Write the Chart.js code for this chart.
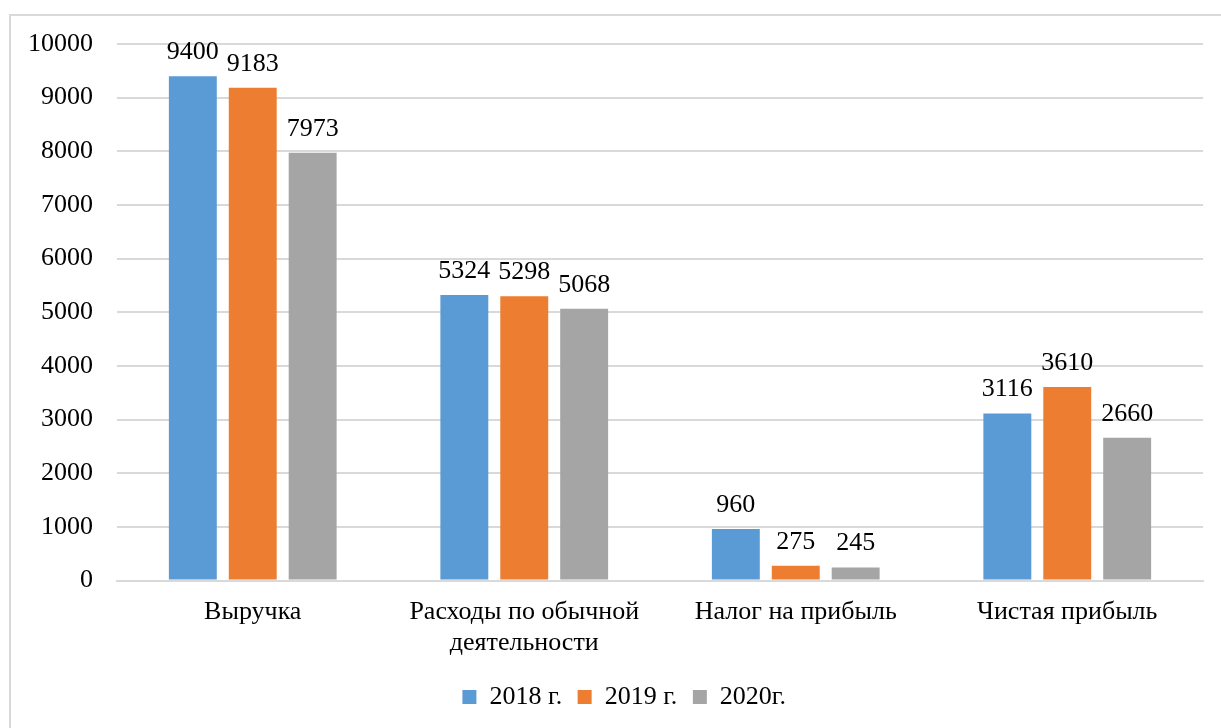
<!DOCTYPE html>
<html>
<head>
<meta charset="utf-8">
<script src="https://cdn.jsdelivr.net/npm/chart.js@4"></script>
<style>
    html, body { margin: 0; padding: 0; background: #fff; }
    #wrap { position: relative; width: 1221px; height: 728px; overflow: hidden; }
    #frame { position: absolute; left: 9px; top: 14px; width: 1300px; height: 800px; border: 2px solid #d9d9d9; box-sizing: border-box; }
    #chartBox { position: absolute; left: 0; top: 0; width: 1221px; height: 728px; }
    #probe { position: absolute; left: -9999px; font-family: 'Liberation Serif'; font-size: 26px; }
</style>
</head>
<body>
<div id="wrap">
    <div id="frame"></div>
    <div id="chartBox"><canvas id="finChart"></canvas></div>
</div>
<span id="probe">Выручка 0123</span>
<script>
// Данные
const categories = ['Выручка', ['Расходы по обычной', 'деятельности'], 'Налог на прибыль', 'Чистая прибыль'];
const seriesNames = ['2018 г.', '2019 г.', '2020г.'];
const values2018 = [9400, 5324, 960, 3116];
const values2019 = [9183, 5298, 275, 3610];
const values2020 = [7973, 5068, 245, 2660];
const colors = ['#5B9BD5', '#ED7D31', '#A5A5A5'];
const yTicks = [0, 1000, 2000, 3000, 4000, 5000, 6000, 7000, 8000, 9000, 10000];

const fontFamily = "'Liberation Serif', 'Times New Roman', serif";
const fontSize = 26;
Chart.defaults.font.family = fontFamily;

// подписи значений над столбцами
const valueLabels = {
    id: 'valueLabels',
    afterDatasetsDraw(chart) {
        const ctx = chart.ctx;
        ctx.save();
        ctx.font = fontSize + "px 'Liberation Serif', serif";
        ctx.fillStyle = '#000';
        ctx.textAlign = 'center';
        ctx.textBaseline = 'alphabetic';
        chart.data.datasets.forEach((ds, i) => {
            chart.getDatasetMeta(i).data.forEach((bar, j) => {
                ctx.fillText(String(ds.data[j]), bar.x, bar.y - 17);
            });
        });
        ctx.restore();
    }
};

// легенда в оригинале чуть правее центра
const legendShift = {
    id: 'legendShift',
    afterLayout(chart) {
        if (chart.legend) {
            chart.legend.left += 24;
            chart.legend.right += 24;
        }
    }
};

const allSeries = [values2018, values2019, values2020];

function drawChart() {
    new Chart(document.getElementById('finChart').getContext('2d'), {
        type: 'bar',
        data: {
            labels: categories,
            datasets: allSeries.map((vals, i) => ({
                label: seriesNames[i] + '\u00a0', // немного воздуха между пунктами легенды
                data: vals,
                backgroundColor: colors[i],
                categoryPercentage: 0.662,
                barPercentage: 0.8
            }))
        },
        options: {
            responsive: true,
            maintainAspectRatio: false,
            animation: false,
            layout: { padding: { left: 4, right: 18, top: 44, bottom: 8 } },
            plugins: {
                legend: {
                    position: 'bottom',
                    labels: {
                        font: { family: fontFamily, size: fontSize },
                        color: '#000',
                        boxWidth: 14,
                        boxHeight: 14,
                        padding: 9
                    }
                },
                tooltip: { enabled: false }
            },
            scales: {
                y: {
                    min: 0,
                    max: 10000,
                    afterBuildTicks: (axis) => { axis.ticks = yTicks.map(v => ({ value: v })); },
                    ticks: {
                        font: { family: fontFamily, size: fontSize },
                        color: '#000',
                        padding: 24,
                        callback: (v) => String(v)
                    },
                    grid: { color: '#d9d9d9', lineWidth: 2, drawTicks: false },
                    border: { display: false }
                },
                x: {
                    ticks: {
                        font: { family: fontFamily, size: fontSize },
                        color: '#000',
                        padding: 16,
                        maxRotation: 0
                    },
                    grid: { display: false, drawTicks: false },
                    border: { color: '#d9d9d9', width: 2 }
                }
            }
        },
        plugins: [valueLabels, legendShift]
    });
}

document.fonts.load(fontSize + "px 'Liberation Serif'").then(drawChart, drawChart);
</script>
</body>
</html>
